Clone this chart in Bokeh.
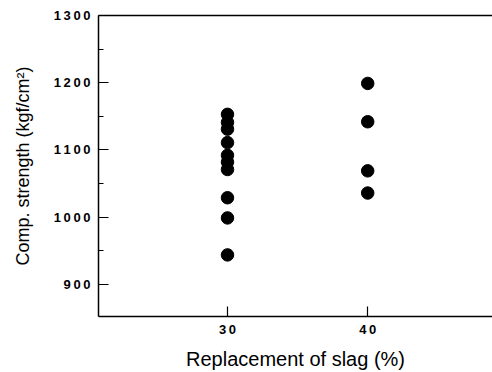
from bokeh.plotting import figure
from bokeh.models import LinearAxis, FixedTicker, CustomJSTickFormatter, Range1d
from bokeh.embed import file_html
from bokeh.resources import INLINE

# Compressive strength measurements by slag replacement level
slag_30 = [30] * 10
strength_30 = [1153, 1141, 1131, 1111, 1092, 1082, 1071, 1029, 999, 944]
slag_40 = [40] * 4
strength_40 = [1199, 1142, 1069, 1036]

x_ticks = [30, 40]
y_ticks = [900, 1000, 1100, 1200, 1300]

FONT = "Liberation Sans"

p = figure(width=492, height=372, output_backend="svg", toolbar_location=None,
           x_range=Range1d(20.8, 48.9), y_range=Range1d(852.4, 1300),
           min_border_left=98, min_border_right=0, min_border_top=15, min_border_bottom=54,
           outline_line_color=None, background_fill_color="white", border_fill_color="white")
p.grid.visible = False

# spaced digits for tick labels
spaced = CustomJSTickFormatter(code="return String(tick).split('').join('\u2009');")

xa = p.xaxis[0]
xa.ticker = FixedTicker(ticks=x_ticks)
xa.formatter = spaced
xa.major_tick_in = 10
xa.major_tick_out = 0
xa.minor_tick_line_color = None
xa.axis_line_width = 1.5
xa.axis_line_color = "black"
xa.major_tick_line_color = "black"
xa.major_tick_line_width = 1.2
xa.major_label_text_font = FONT
xa.major_label_text_font_style = "bold"
xa.major_label_text_font_size = "13px"
xa.major_label_text_color = "black"
xa.major_label_standoff = 5
xa.axis_label = "Replacement of slag (%)"
xa.axis_label_text_font = FONT
xa.axis_label_text_font_style = "normal"
xa.axis_label_text_font_size = "20px"
xa.axis_label_text_color = "black"
xa.axis_label_standoff = 8

ya = p.yaxis[0]
ya.ticker = FixedTicker(ticks=y_ticks, minor_ticks=[950, 1050, 1150, 1250])
ya.formatter = spaced
ya.major_tick_in = 10
ya.major_tick_out = 0
ya.minor_tick_in = 5
ya.minor_tick_out = 0
ya.axis_line_width = 1.5
ya.axis_line_color = "black"
ya.major_tick_line_color = "black"
ya.minor_tick_line_color = "black"
ya.major_tick_line_width = 1.2
ya.major_label_text_font = FONT
ya.major_label_text_font_style = "bold"
ya.major_label_text_font_size = "13px"
ya.major_label_text_color = "black"
ya.major_label_standoff = 8
ya.axis_label = "Comp. strength (kgf/cm\u00b2)"
ya.axis_label_text_font = FONT
ya.axis_label_text_font_style = "normal"
ya.axis_label_text_font_size = "18px"
ya.axis_label_text_color = "black"
ya.axis_label_standoff = 18

# top border line
top = LinearAxis(ticker=FixedTicker(ticks=[]), major_label_text_font_size="0px",
                 major_tick_line_color=None, minor_tick_line_color=None,
                 axis_line_width=1.5, axis_line_color="black")
p.add_layout(top, "above")

p.scatter(slag_30, strength_30, size=12.5, color="black")
p.scatter(slag_40, strength_40, size=12.5, color="black")

open("out.html", "w").write(file_html(p, INLINE))
